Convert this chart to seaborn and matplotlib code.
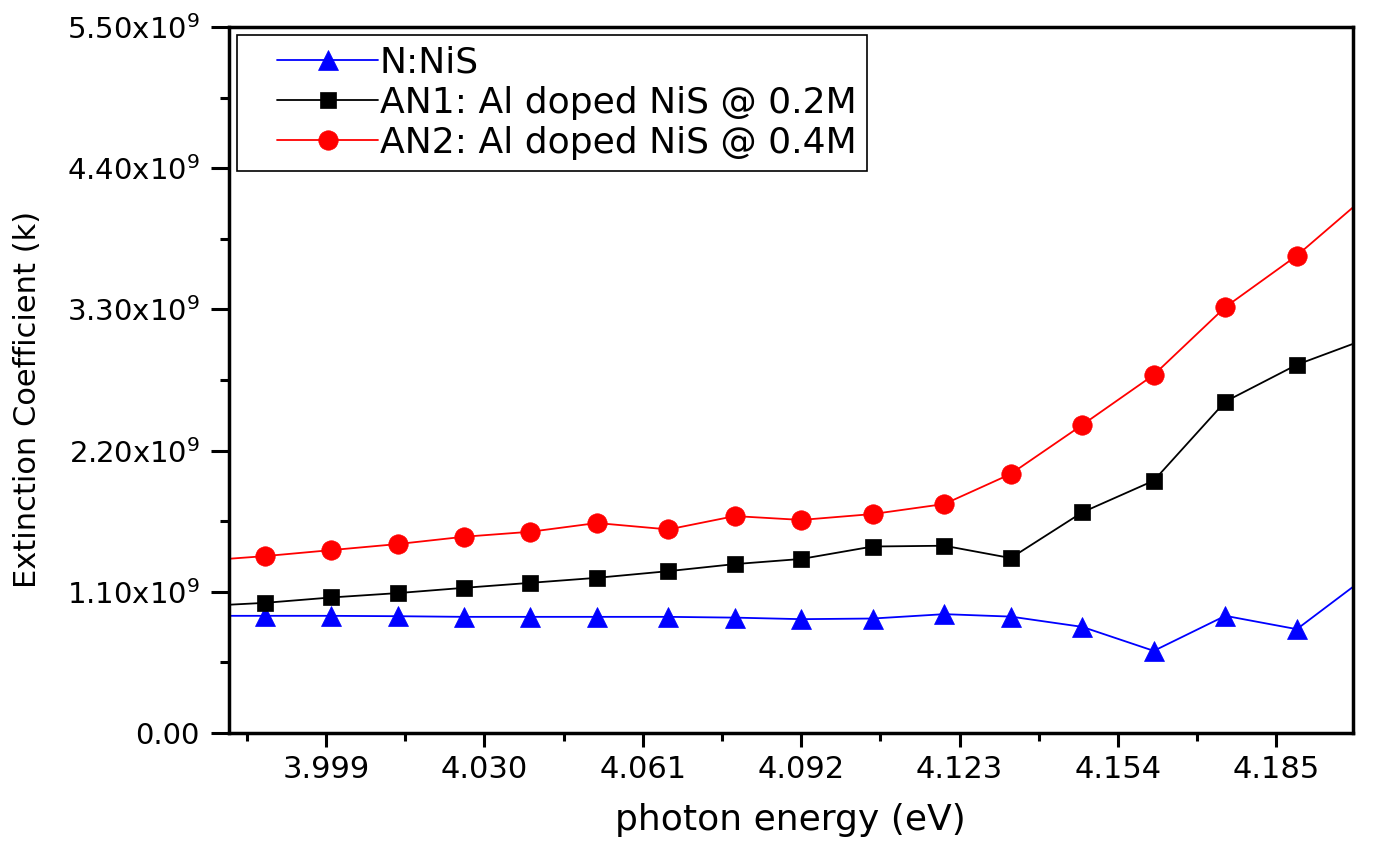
import matplotlib
matplotlib.use("Agg")
import matplotlib.pyplot as plt
import seaborn as sns
import pandas as pd
from matplotlib.lines import Line2D
from matplotlib.legend_handler import HandlerLine2D
from matplotlib.ticker import FixedLocator, FuncFormatter

# photon energy (eV), first and last points sit just outside the visible range
energy = [3.974, 3.987, 4.000, 4.013, 4.026, 4.039, 4.052, 4.066, 4.079,
          4.092, 4.106, 4.120, 4.133, 4.147, 4.161, 4.175, 4.189, 4.203]

# extinction coefficient, in units of 1e9
k_nis = [0.913, 0.913, 0.913, 0.910, 0.905, 0.905, 0.905, 0.905, 0.899,
         0.887, 0.892, 0.926, 0.907, 0.827, 0.640, 0.913, 0.809, 1.229]
k_an1 = [0.987, 1.014, 1.056, 1.090, 1.131, 1.170, 1.209, 1.261, 1.316,
         1.356, 1.453, 1.459, 1.363, 1.719, 1.966, 2.582, 2.869, 3.076]
k_an2 = [1.340, 1.378, 1.425, 1.472, 1.529, 1.568, 1.636, 1.586, 1.690,
         1.660, 1.706, 1.784, 2.018, 2.400, 2.790, 3.318, 3.719, 4.198]

labels = ["N:NiS", "AN1: Al doped NiS @ 0.2M", "AN2: Al doped NiS @ 0.4M"]
x_ticks = [3.999, 4.030, 4.061, 4.092, 4.123, 4.154, 4.185]
y_ticks = [0.0, 1.1, 2.2, 3.3, 4.4, 5.5]

sns.set_style("ticks")
plt.rcParams["font.family"] = ["DejaVu Sans"]
plt.rcParams["mathtext.default"] = "regular"
plt.rcParams["text.color"] = "black"
plt.rcParams["axes.labelcolor"] = "black"
plt.rcParams["xtick.color"] = "black"
plt.rcParams["ytick.color"] = "black"

fig = plt.figure(figsize=(13.77, 8.49), dpi=100)
ax = fig.add_axes([0.1663, 0.1366, 0.8163, 0.8316])

styles = [
    (k_nis, "#0000FF", "^", 15),
    (k_an1, "#000000", "s", 12),
    (k_an2, "#FF0000", "o", 14),
]
for (vals, col, mk, ms), lab in zip(styles, labels):
    df = pd.DataFrame({"energy": energy, "k": [v * 1e9 for v in vals]})
    sns.lineplot(data=df, x="energy", y="k", ax=ax, color=col, marker=mk,
                 markersize=ms, markeredgecolor=col, markeredgewidth=0.5,
                 linewidth=1.3, label=lab)

ax.set_xlim(3.980, 4.200)
ax.set_ylim(0, 5.5e9)

ax.xaxis.set_major_locator(FixedLocator(x_ticks))
ax.xaxis.set_minor_locator(FixedLocator([t + 0.0155 for t in [3.968] + x_ticks]))
ax.xaxis.set_major_formatter(FuncFormatter(lambda v, p: f"{v:.3f}"))

ax.yaxis.set_major_locator(FixedLocator([t * 1e9 for t in y_ticks]))
ax.yaxis.set_minor_locator(FixedLocator([(t + 0.55) * 1e9 for t in y_ticks[:-1]]))


def yfmt(v, p):
    if v == 0:
        return "0.00"
    return f"{v / 1e9:.2f}x10$^{{9}}$"


ax.yaxis.set_major_formatter(FuncFormatter(yfmt))

for sp in ax.spines.values():
    sp.set_linewidth(2.5)
    sp.set_color("black")

ax.tick_params(axis="x", which="major", direction="out", length=10, width=2.2,
               labelsize=22, pad=6)
ax.tick_params(axis="x", which="minor", direction="out", length=5.5, width=2.2)
ax.tick_params(axis="y", which="major", direction="out", length=13, width=2.2,
               labelsize=21, pad=8)
ax.tick_params(axis="y", which="minor", direction="out", length=6.5, width=2.2)

ax.set_xlabel("photon energy (eV)", fontsize=26)
ax.xaxis.label.set_va("center")
ax.xaxis.set_label_coords(0.499, -0.123)
ax.set_ylabel("Extinction Coefficient (k)", fontsize=22)
ax.yaxis.label.set_va("center")
ax.yaxis.set_label_coords(-0.179, 0.472)

leg = ax.legend(loc="upper left", fontsize=26, frameon=True, fancybox=False,
                borderaxespad=0.22, borderpad=0.3, labelspacing=0.17,
                handlelength=3.6, handletextpad=0.05,
                handler_map={Line2D: HandlerLine2D(numpoints=1, xpad=0.82)})
leg.get_frame().set_edgecolor("black")
leg.get_frame().set_linewidth(1.2)
leg.get_frame().set_alpha(1)

fig.savefig("out.png", dpi=100)
